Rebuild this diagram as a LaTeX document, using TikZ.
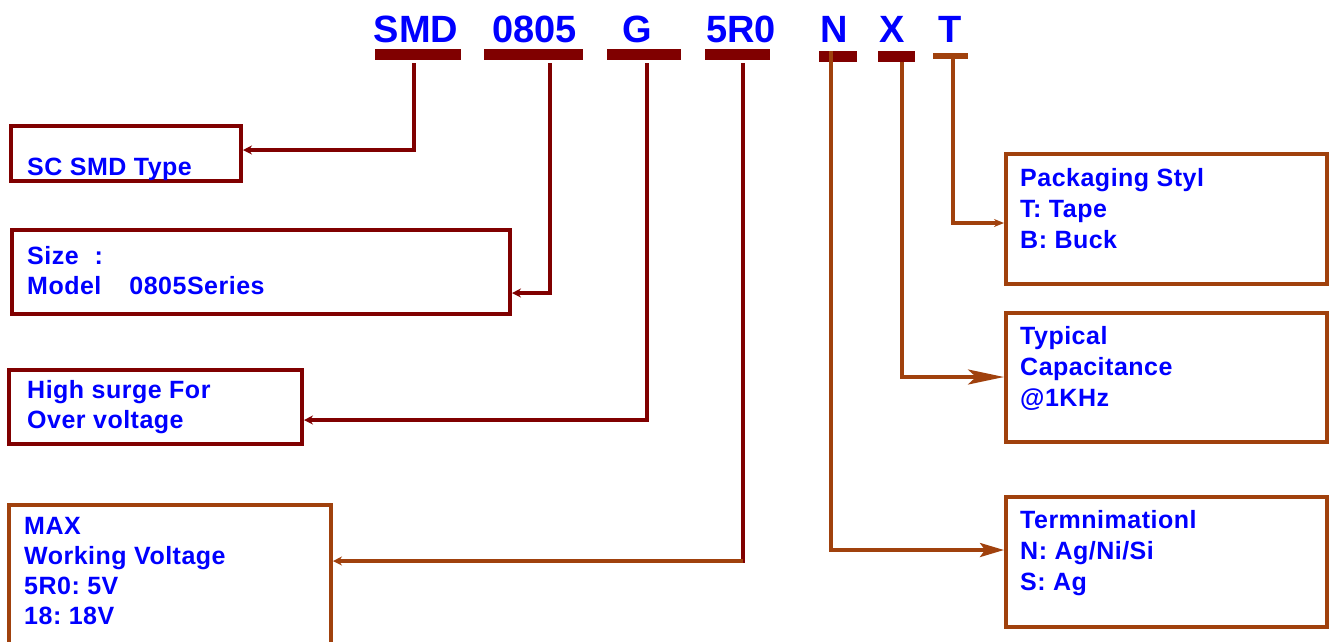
\documentclass[tikz,border=0pt]{standalone}
\usepackage{fontspec}
\setmainfont{Liberation Sans}
\newfontfamily\lblfont{Liberation Sans}[LetterSpace=2]
\frenchspacing
\usetikzlibrary{arrows.meta}
\definecolor{maroonc}{HTML}{800000}
\definecolor{brownc}{HTML}{A0410D}
\definecolor{bluec}{HTML}{0000FF}
\begin{document}
\begin{tikzpicture}[x=1pt,y=-1pt,
  lbl/.style={inner sep=0pt, anchor=base west, text=bluec, font=\lblfont\fontsize{25}{30}\selectfont\bfseries\frenchspacing},
  rlbl/.style={inner sep=0pt, anchor=base west, text=bluec, font=\lblfont\fontsize{25}{31}\selectfont\bfseries\frenchspacing},
  code/.style={inner sep=0pt, anchor=base, text=bluec, font=\fontsize{38}{40}\selectfont\bfseries},
  mbox/.style={draw=maroonc, line width=4pt, inner sep=0pt},
  bbox/.style={draw=brownc, line width=4pt, inner sep=0pt},
  mbar/.style={fill=maroonc, inner sep=0pt, anchor=north west},
  bbar/.style={fill=brownc, inner sep=0pt, anchor=north west},
  mconn/.style={draw=maroonc, line width=3.5pt},
  bconn/.style={draw=brownc, line width=3.5pt},
  smalltip/.style={-{Stealth[length=9pt,width=9pt]}},
]
\useasboundingbox (0,0) rectangle (1332,641);
\clip (0,0) rectangle (1332,641);

% code letters
\node[code] (cSMD) at (416,42) {SMD};
\node[code] (c0805) at (534.5,42) {0805};
\node[code] (cG) at (637.5,42) {G};
\node[code] (c5R0) at (741,42) {5R0};
\node[code] (cN) at (834.5,42) {N};
\node[code] (cX) at (892.5,42) {X};
\node[code] (cT) at (950.5,42) {T};

% bars
\node[mbar, minimum width=86, minimum height=11] (bSMD) at (375,49) {};
\node[mbar, minimum width=99, minimum height=11] (b0805) at (484,49) {};
\node[mbar, minimum width=74, minimum height=11] (bG) at (607,49) {};
\node[mbar, minimum width=65, minimum height=11] (b5R0) at (705,49) {};
\node[mbar, minimum width=38, minimum height=11] (bN) at (819,51) {};
\node[mbar, minimum width=37, minimum height=11] (bX) at (878,51) {};
\node[bbar, minimum width=35, minimum height=6] (bT) at (933,53) {};

% boxes
\node[mbox, minimum width=230, minimum height=55] (box1) at (126,153.5) {};
\node[mbox, minimum width=498.5, minimum height=84] (box2) at (260.75,272) {};
\node[mbox, minimum width=293, minimum height=74] (box3) at (155.5,407) {};
\node[bbox, minimum width=322, minimum height=160] (box4) at (170,585) {};
\node[bbox, minimum width=321, minimum height=130] (box5) at (1166.5,219) {};
\node[bbox, minimum width=321, minimum height=129] (box6) at (1166.5,377.5) {};
\node[bbox, minimum width=321, minimum height=130] (box7) at (1166.5,562) {};

% texts
\node[lbl] (t1) at (27,175) {SC SMD Type};
\node[lbl] (t2) at (27,264) {\begin{tabular}[t]{@{}l@{}}Size\hspace{16pt}:\\ Model\hspace{28pt}0805Series\end{tabular}};
\node[lbl] (t3) at (27,398) {\begin{tabular}[t]{@{}l@{}}High surge For\\ Over voltage\end{tabular}};
\node[lbl] (t4) at (24,534) {\begin{tabular}[t]{@{}l@{}}MAX\\ Working Voltage\\ 5R0: 5V\\ 18: 18V\end{tabular}};
\node[rlbl] (t5) at (1020,186) {\begin{tabular}[t]{@{}l@{}}Packaging Styl\\ T: Tape\\ B: Buck\end{tabular}};
\node[rlbl] (t6) at (1020,344) {\begin{tabular}[t]{@{}l@{}}Typical\\ Capacitance\\ @1KHz\end{tabular}};
\node[rlbl] (t7) at (1020,528) {\begin{tabular}[t]{@{}l@{}}Termnimationl\\ N: Ag/Ni/Si\\ S: Ag\end{tabular}};

% corner coordinates
\coordinate (k1) at (414,150);
\coordinate (k2) at (550,293);
\coordinate (k3) at (647,420);
\coordinate (k4) at (743,561);
\coordinate (k5) at (953,223);
\coordinate (k6) at (902,377);
\coordinate (k7) at (831,550);

% connectors
\draw[mconn, smalltip] ([yshift=-3pt]k1 |- bSMD.south) -- (k1) -- (k1 -| box1.east);
\draw[mconn, smalltip] ([yshift=-3pt]k2 |- b0805.south) -- (k2) -- (k2 -| box2.east);
\draw[mconn, smalltip] ([yshift=-3pt]k3 |- bG.south) -- (k3) -- (k3 -| box3.east);
\draw[mconn] ([yshift=-3pt]k4 |- b5R0.south) -- ([yshift=-1.5pt]k4);
\draw[bconn, smalltip] (k4) -- (k4 -| box4.east);
\draw[bconn, -{Stealth[length=10pt,width=8pt]}] (k5 |- bT.south) -- (k5) -- (k5 -| box5.west);
\draw[bconn, -{Stealth[length=36pt,width=15pt,inset=8pt]}] (k6 |- bX.south) -- (k6) -- (k6 -| box6.west);
\draw[bconn, -{Stealth[length=24pt,width=14pt,inset=5pt]}] (k7 |- bN.north) -- (k7) -- (k7 -| box7.west);
\end{tikzpicture}
\end{document}
